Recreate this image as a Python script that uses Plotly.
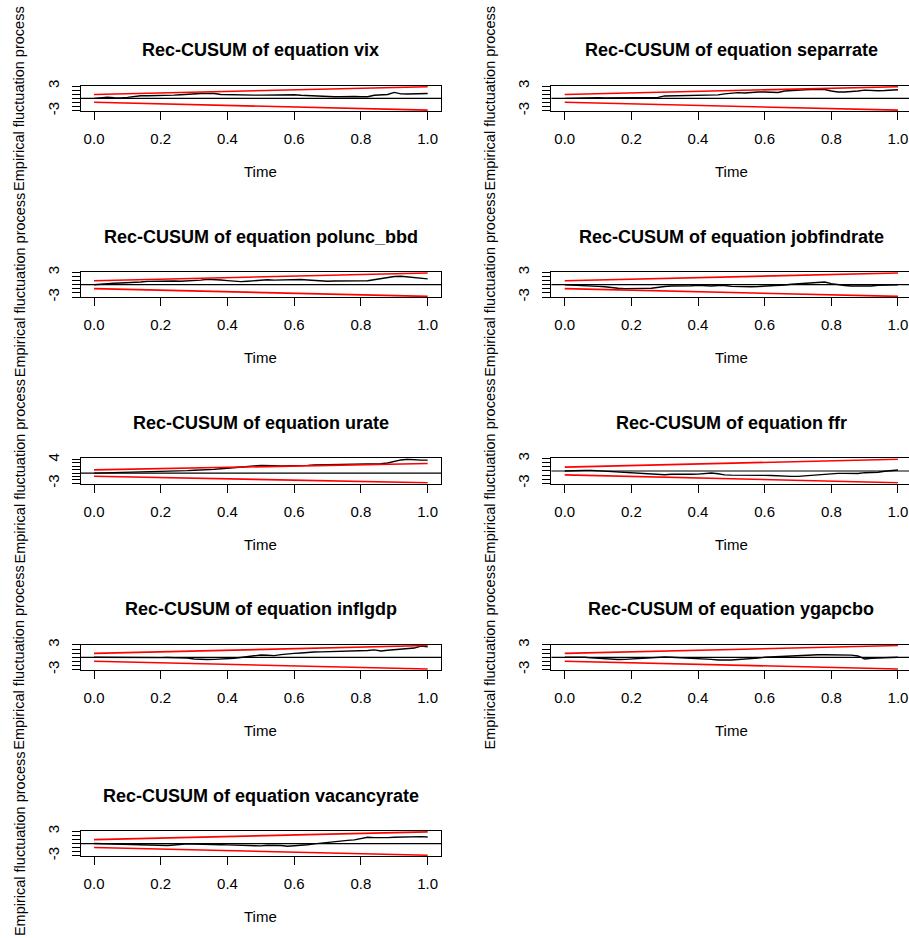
import math
import plotly.graph_objects as go

# Recursive CUSUM processes of a 9-equation model on a common time grid
time = [0.00, 0.02, 0.04, 0.06, 0.08, 0.10, 0.12, 0.14, 0.16, 0.18,
        0.20, 0.22, 0.24, 0.26, 0.28, 0.30, 0.32, 0.34, 0.36, 0.38,
        0.40, 0.42, 0.44, 0.46, 0.48, 0.50, 0.52, 0.54, 0.56, 0.58,
        0.60, 0.62, 0.64, 0.66, 0.68, 0.70, 0.72, 0.74, 0.76, 0.78,
        0.80, 0.82, 0.84, 0.86, 0.88, 0.90, 0.92, 0.94, 0.96, 0.98, 1.00]

cusum_vix = [0, 0.15, 0.3, 0.15, 0.1, 0.25, 0.5, 0.65, 0.65, 0.65,
             0.7, 0.75, 0.8, 0.9, 1.05, 1.1, 1.2, 1.2, 1.2, 0.95,
             0.9, 0.8, 0.75, 0.75, 0.8, 0.8, 0.8, 0.9, 0.95, 0.95,
             0.9, 0.75, 0.65, 0.55, 0.5, 0.4, 0.4, 0.4, 0.5, 0.45,
             0.4, 0.4, 0.75, 0.9, 0.95, 1.45, 1.1, 1.05, 1.05, 1.1, 1.2]

cusum_separrate = [0, 0.05, 0.15, 0.25, 0.3, 0.2, 0.1, 0.1, 0.15, 0.15,
                   0.1, 0.15, 0.2, 0.25, 0.25, 0.6, 0.65, 0.65, 0.65, 0.7,
                   0.8, 0.9, 0.85, 0.85, 1.1, 1.25, 1.4, 1.3, 1.45, 1.55,
                   1.55, 1.55, 1.45, 1.8, 1.95, 2.0, 2.1, 2.15, 2.2, 2.15,
                   1.8, 1.55, 1.55, 1.6, 1.8, 2.0, 1.9, 1.85, 1.9, 2.0, 2.1]

cusum_polunc_bbd = [0, 0.15, 0.3, 0.35, 0.4, 0.45, 0.5, 0.65, 0.8, 0.85,
                    0.9, 0.9, 0.88, 0.85, 0.9, 1.0, 1.1, 1.3, 1.3, 1.15,
                    1.0, 0.85, 0.75, 0.85, 1.0, 1.2, 1.2, 1.1, 1.15, 1.3,
                    1.33, 1.25, 1.15, 1.0, 0.88, 0.83, 0.9, 0.95, 1.0, 0.95,
                    0.92, 0.95, 1.2, 1.5, 1.75, 2.0, 2.05, 1.9, 1.6, 1.45, 1.4]

cusum_jobfindrate = [0, -0.05, -0.2, -0.3, -0.35, -0.4, -0.5, -0.75, -0.85, -0.95,
                     -0.98, -0.95, -0.9, -0.85, -0.74, -0.45, -0.33, -0.35, -0.33, -0.25,
                     -0.16, -0.25, -0.33, -0.2, -0.2, -0.4, -0.49, -0.5, -0.49, -0.45,
                     -0.4, -0.33, -0.2, -0.08, 0.1, 0.2, 0.3, 0.4, 0.5, 0.66,
                     0.25, -0.05, -0.2, -0.3, -0.33, -0.33, -0.3, -0.15, -0.05, 0, 0]

cusum_urate = [0, 0.05, 0.1, 0.2, 0.25, 0.25, 0.25, 0.25, 0.35, 0.5,
               0.55, 0.5, 0.55, 0.65, 0.75, 0.85, 0.9, 1.0, 1.1, 1.3,
               1.5, 1.65, 1.8, 1.95, 2.1, 2.25, 2.3, 2.2, 2.15, 2.15,
               2.2, 2.25, 2.3, 2.4, 2.45, 2.5, 2.55, 2.55, 2.55, 2.55,
               2.55, 2.6, 2.7, 2.8, 3.0, 3.45, 3.9, 4.1, 3.9, 3.85, 3.85]

cusum_ffr = [0, 0.1, 0.15, 0.15, 0.15, 0.05, -0.1, -0.25, -0.35, -0.42,
             -0.49, -0.6, -0.7, -0.78, -0.85, -0.9, -0.8, -0.74, -0.8, -0.8,
             -0.75, -0.65, -0.49, -0.66, -0.95, -1.0, -1.05, -1.1, -1.15, -1.12,
             -1.07, -1.1, -1.2, -1.25, -1.3, -1.31, -1.2, -1.07, -0.85, -0.7,
             -0.6, -0.57, -0.57, -0.65, -0.6, -0.41, -0.41, -0.3, -0.05, 0.15, 0.25]

cusum_inflgdp = [0, -0.02, -0.05, -0.08, -0.08, -0.1, -0.14, -0.16, -0.14, -0.1,
                 -0.08, -0.06, -0.06, -0.08, -0.2, -0.4, -0.56, -0.55, -0.5, -0.45,
                 -0.35, -0.24, -0.05, 0.15, 0.35, 0.56, 0.5, 0.4, 0.65, 0.88,
                 0.95, 1.04, 1.2, 1.28, 1.32, 1.36, 1.45, 1.52, 1.55, 1.6,
                 1.5, 1.65, 1.8, 1.52, 1.7, 1.84, 1.95, 2.05, 2.24, 2.72, 2.56]

cusum_ygapcbo = [0, 0.05, 0.02, 0, -0.15, -0.28, -0.35, -0.45, -0.55, -0.5,
                 -0.38, -0.28, -0.12, 0, 0.05, 0.08, 0.02, -0.06, -0.1, -0.12,
                 -0.16, -0.3, -0.5, -0.65, -0.72, -0.65, -0.52, -0.45, -0.35, -0.2,
                 0, 0.1, 0.2, 0.28, 0.36, 0.42, 0.46, 0.52, 0.62, 0.6,
                 0.56, 0.6, 0.64, 0.52, 0.32, -0.4, -0.25, -0.12, -0.1, -0.05, 0]

cusum_vacancyrate = [0, -0.05, -0.12, -0.2, -0.26, -0.3, -0.36, -0.4, -0.42, -0.45,
                     -0.48, -0.48, -0.35, -0.2, -0.08, -0.12, -0.2, -0.24, -0.26, -0.3,
                     -0.32, -0.35, -0.38, -0.4, -0.48, -0.56, -0.4, -0.35, -0.48, -0.65,
                     -0.58, -0.48, -0.3, -0.08, 0.12, 0.3, 0.48, 0.65, 0.78, 0.89,
                     1.2, 1.53, 1.45, 1.37, 1.45, 1.55, 1.61, 1.53, 1.6, 1.69, 1.61]

equations = ["vix", "separrate", "polunc_bbd", "jobfindrate", "urate",
             "ffr", "inflgdp", "ygapcbo", "vacancyrate"]
processes = [cusum_vix, cusum_separrate, cusum_polunc_bbd, cusum_jobfindrate,
             cusum_urate, cusum_ffr, cusum_inflgdp, cusum_ygapcbo, cusum_vacancyrate]

# 5% critical value of the Rec-CUSUM boundary lambda * (1 + 2t)
boundary_lambda = 0.948
boundary_time = [0.0, 1.0]

x_ticks = [0.0, 0.2, 0.4, 0.6, 0.8, 1.0]
x_tick_text = ["0.0", "0.2", "0.4", "0.6", "0.8", "1.0"]

# ---- page geometry (pixels) ----
W, H = 909, 938
FONT = "Liberation Sans, Arial, Helvetica, sans-serif"
col_box = [(80.7, 441.0), (551.4, 911.3)]   # plot box, left/right column
row_c0, row_step, half_h = 93.4, 188.3, 12.8


def px(xp):
    return xp / W


def py(yp):
    return 1 - yp / H


fig = go.Figure()
annotations = []
shapes = []
layout_axes = {}

for i, (name, vals) in enumerate(zip(equations, processes)):
    row, col = divmod(i, 2)
    n = i + 1
    xname = "xaxis" if n == 1 else f"xaxis{n}"
    yname = "yaxis" if n == 1 else f"yaxis{n}"
    xref = "x" if n == 1 else f"x{n}"
    yref = "y" if n == 1 else f"y{n}"

    bx0, bx1 = col_box[col]
    c = row_c0 + row_step * row
    by0, by1 = c - half_h, c + half_h

    # horizontal scale: range 0..1 padded by 4% as in base graphics
    unit = (bx1 - bx0) / 1.08
    x_lo = -0.04
    x_hi = x_lo + (min(bx1, W) - bx0) / unit
    dom_x = [px(bx0), px(min(bx1, W))]

    b_end = boundary_lambda * 3
    lo = min(min(vals), -b_end)
    hi = max(max(vals), b_end)
    pad = 0.04 * (hi - lo)
    y_lo, y_hi = lo - pad, hi + pad
    yt = list(range(math.ceil(y_lo), math.floor(y_hi) + 1))
    yt_text = [str(v) if v in (yt[0], yt[-1]) else "" for v in yt]

    layout_axes[xname] = dict(
        domain=dom_x, range=[x_lo, x_hi], anchor=yref,
        tickmode="array", tickvals=x_ticks, ticktext=x_tick_text,
        ticks="outside", ticklen=8, tickwidth=1.1, tickcolor="black",
        ticklabelstandoff=6,
        showline=True, linecolor="black", linewidth=1.2, mirror=True,
        showgrid=False, zeroline=False,
        tickfont=dict(family=FONT, size=15, color="black"),
        fixedrange=True,
    )
    layout_axes[yname] = dict(
        domain=[py(by1), py(by0)], range=[y_lo, y_hi], anchor=xref,
        tickmode="array", tickvals=yt, ticktext=yt_text, tickangle=-90,
        ticks="outside", ticklen=8, tickwidth=1.1, tickcolor="black",
        ticklabelstandoff=7,
        showline=True, linecolor="black", linewidth=1.2,
        mirror=(col == 0),
        showgrid=False, zeroline=False,
        tickfont=dict(family=FONT, size=15, color="black"),
        fixedrange=True,
    )

    # fluctuation process
    fig.add_trace(go.Scatter(
        x=time, y=vals, mode="lines", xaxis=xref, yaxis=yref,
        line=dict(color="black", width=1.4), hoverinfo="skip",
    ))
    # upper and lower boundaries
    upper = [boundary_lambda * (1 + 2 * t) for t in boundary_time]
    lower = [-u for u in upper]
    for bnd in (upper, lower):
        fig.add_trace(go.Scatter(
            x=boundary_time, y=bnd, mode="lines", xaxis=xref, yaxis=yref,
            line=dict(color="#ff0000", width=1.6), hoverinfo="skip",
        ))
    # reference line at zero
    shapes.append(dict(
        type="line", xref=f"{xref} domain", yref=yref,
        x0=0, x1=1, y0=0, y1=0, line=dict(color="black", width=1.2),
    ))

    cx = (bx0 + bx1) / 2
    annotations.append(dict(
        text=f"Rec-CUSUM of equation {name}", x=px(cx), y=py(c - 48.5),
        xref="paper", yref="paper", xanchor="center", yanchor="middle",
        showarrow=False, font=dict(family=FONT, size=18, color="black", weight="bold"),
    ))
    annotations.append(dict(
        text="Time", x=px(cx), y=py(c + 73.8),
        xref="paper", yref="paper", xanchor="center", yanchor="middle",
        showarrow=False, font=dict(family=FONT, size=15, color="black"),
    ))
    annotations.append(dict(
        text="Empirical fluctuation process", x=px(19.5 + 470.6 * col), y=py(c),
        xref="paper", yref="paper", xanchor="center", yanchor="middle",
        textangle=-90, showarrow=False,
        font=dict(family=FONT, size=14.5, color="black"),
    ))

fig.update_layout(
    width=W, height=H,
    margin=dict(l=0, r=0, t=0, b=0),
    paper_bgcolor="white", plot_bgcolor="white",
    showlegend=False,
    annotations=annotations, shapes=shapes,
    **layout_axes,
)

fig.write_html("out.html", config={"displayModeBar": False})
